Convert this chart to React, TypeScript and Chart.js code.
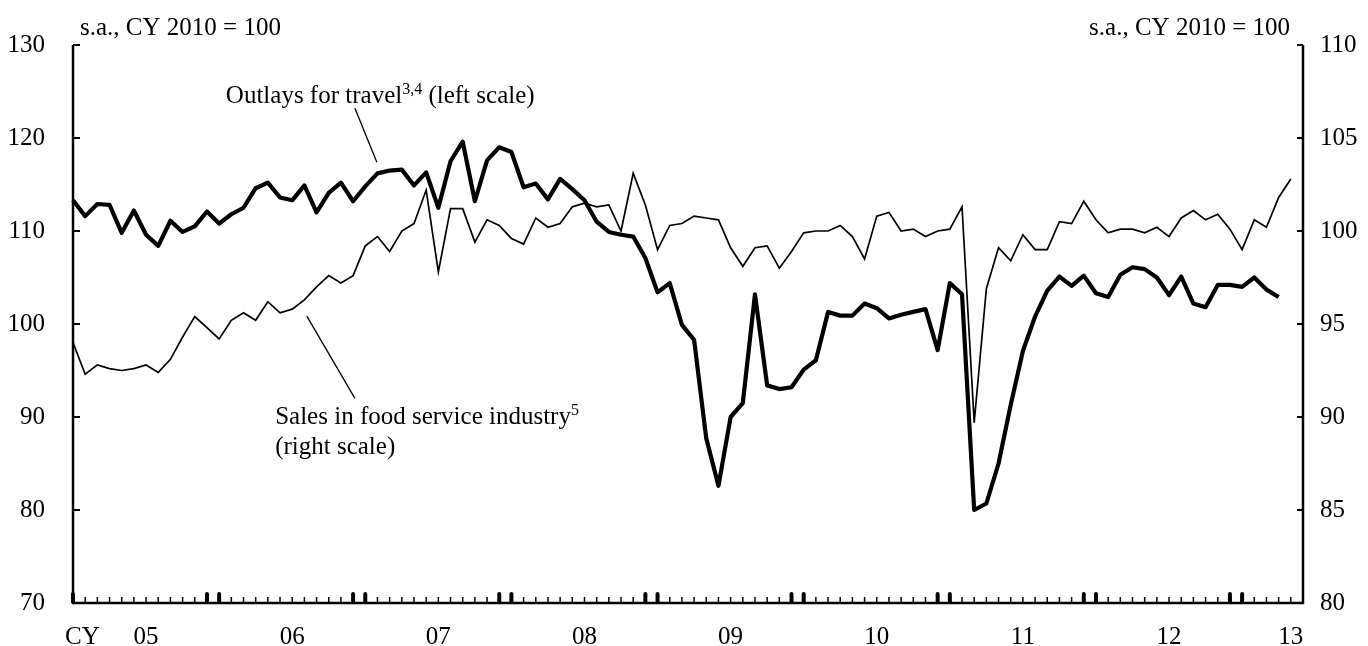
import { useEffect, useRef } from 'react';
import { Chart, registerables } from 'chart.js';

Chart.register(...registerables);

// ---- data ----
const START_YEAR = 2005;
const MONTH_COUNT = 102; // Jan 2005 .. Jun 2013
const months: string[] = Array.from({ length: MONTH_COUNT }, (_, i) =>
  `${START_YEAR + Math.floor(i / 12)}-${String((i % 12) + 1).padStart(2, '0')}`
);

// Outlays for travel (left scale), Jan 2005 .. Apr 2013
const travelOutlays = [
  113.3, 111.6, 112.9, 112.8, 109.8, 112.2, 109.6, 108.4, 111.1, 109.9,
  110.5, 112.1, 110.8, 111.8, 112.5, 114.6, 115.2, 113.6, 113.3, 114.9,
  112.0, 114.1, 115.2, 113.2, 114.8, 116.2, 116.5, 116.6, 114.9, 116.3,
  112.5, 117.5, 119.6, 113.2, 117.6, 119.0, 118.5, 114.7, 115.1, 113.4,
  115.6, 114.5, 113.3, 111.0, 109.9, 109.6, 109.4, 107.1, 103.4, 104.4,
  99.9, 98.3, 87.7, 82.6, 90.0, 91.5, 103.2, 93.4, 93.0, 93.2,
  95.1, 96.1, 101.3, 100.9, 100.9, 102.2, 101.7, 100.6, 101.0, 101.3,
  101.6, 97.2, 104.4, 103.2, 80.0, 80.7, 85.0, 91.3, 97.1, 100.8,
  103.6, 105.1, 104.1, 105.2, 103.3, 102.9, 105.3, 106.1, 105.9, 105.0,
  103.1, 105.1, 102.2, 101.8, 104.2, 104.2, 104.0, 105.0, 103.7, 102.9,
];

// Sales in food service industry (right scale), Jan 2005 .. May 2013
const foodServiceSales = [
  94.0, 92.3, 92.8, 92.6, 92.5, 92.6, 92.8, 92.4, 93.1, 94.3,
  95.4, 94.8, 94.2, 95.2, 95.6, 95.2, 96.2, 95.6, 95.8, 96.3,
  97.0, 97.6, 97.2, 97.6, 99.2, 99.7, 98.9, 100.0, 100.4, 102.2,
  97.8, 101.2, 101.2, 99.4, 100.6, 100.3, 99.6, 99.3, 100.7, 100.2,
  100.4, 101.3, 101.5, 101.3, 101.4, 100.0, 103.1, 101.4, 99.0, 100.3,
  100.4, 100.8, 100.7, 100.6, 99.1, 98.1, 99.1, 99.2, 98.0, 98.9,
  99.9, 100.0, 100.0, 100.3, 99.7, 98.5, 100.8, 101.0, 100.0, 100.1,
  99.7, 100.0, 100.1, 101.3, 89.7, 96.9, 99.1, 98.4, 99.8, 99.0,
  99.0, 100.5, 100.4, 101.6, 100.6, 99.9, 100.1, 100.1, 99.9, 100.2,
  99.7, 100.7, 101.1, 100.6, 100.9, 100.1, 99.0, 100.6, 100.2, 101.8,
  102.8,
];

const leftTicks = [70, 80, 90, 100, 110, 120, 130];
const rightTicks = [80, 85, 90, 95, 100, 105, 110];
const yearLabels = ['05', '06', '07', '08', '09', '10', '11', '12', '13'];
const unitLabel = 's.a., CY 2010 = 100';

const FONT = "'Liberation Serif', 'Times New Roman', serif";
const FS = 25;

const decorPlugin = {
  id: 'decor',
  afterDraw(chart: any) {
    const { ctx, chartArea: ca, scales } = chart;
    const x = scales.x;
    const yL = scales.yL;
    ctx.save();
    ctx.strokeStyle = '#000';
    ctx.fillStyle = '#000';

    // axis lines (left, bottom, right)
    ctx.lineWidth = 2.5;
    ctx.lineCap = 'butt';
    ctx.beginPath();
    ctx.moveTo(ca.left, ca.top);
    ctx.lineTo(ca.left, ca.bottom);
    ctx.lineTo(ca.right, ca.bottom);
    ctx.lineTo(ca.right, ca.top);
    ctx.stroke();

    // y ticks (inward)
    ctx.lineWidth = 2;
    leftTicks.forEach((v) => {
      const y = yL.getPixelForValue(v);
      ctx.beginPath();
      ctx.moveTo(ca.left, y);
      ctx.lineTo(ca.left + 7, y);
      ctx.stroke();
    });
    rightTicks.forEach((v) => {
      const y = scales.yR.getPixelForValue(v);
      ctx.beginPath();
      ctx.moveTo(ca.right - 6, y);
      ctx.lineTo(ca.right, y);
      ctx.stroke();
    });

    // x ticks (inward, monthly; year boundaries emphasised)
    months.forEach((_, i) => {
      const px = x.getPixelForValue(i);
      const m = i % 12;
      if (m === 0 || m === 11) {
        const w = 4;
        const h = 11;
        ctx.beginPath();
        ctx.moveTo(px - w / 2, ca.bottom);
        ctx.lineTo(px - w / 2, ca.bottom - h + w / 2);
        ctx.arc(px, ca.bottom - h + w / 2, w / 2, Math.PI, 0);
        ctx.lineTo(px + w / 2, ca.bottom);
        ctx.closePath();
        ctx.fill();
      } else {
        ctx.lineWidth = 1.5;
        ctx.beginPath();
        ctx.moveTo(px, ca.bottom);
        ctx.lineTo(px, ca.bottom - 6);
        ctx.stroke();
      }
    });

    // x labels
    ctx.font = `${FS}px ${FONT}`;
    ctx.textBaseline = 'alphabetic';
    const labelY = ca.bottom + 41;
    ctx.textAlign = 'left';
    ctx.fillText('CY', x.getPixelForValue(0) - 8, labelY);
    ctx.textAlign = 'center';
    yearLabels.forEach((lab, k) => {
      const pos = Math.min(k * 12 + 6, MONTH_COUNT - 2);
      ctx.fillText(lab, x.getPixelForValue(pos), labelY);
    });

    // unit labels
    const unitY = ca.top - 10;
    ctx.textAlign = 'left';
    ctx.fillText(unitLabel, ca.left + 7, unitY);
    ctx.textAlign = 'right';
    ctx.fillText(unitLabel, ca.right - 13, unitY);

    // annotations
    const drawRich = (parts: { t: string; sup?: boolean }[], px: number, py: number) => {
      let cx = px;
      ctx.textAlign = 'left';
      parts.forEach((p) => {
        ctx.font = p.sup ? `${Math.round(FS * 0.65)}px ${FONT}` : `${FS}px ${FONT}`;
        ctx.fillText(p.t, cx, p.sup ? py - 9 : py);
        cx += ctx.measureText(p.t).width;
      });
    };
    const P = (i: number, v: number) => [x.getPixelForValue(i), yL.getPixelForValue(v)];

    const [ax, ay] = P(12.55, 123.8);
    drawRich([{ t: 'Outlays for travel' }, { t: '3,4', sup: true }, { t: ' (left scale)' }], ax, ay);
    const [bx, by] = P(16.6, 89.2);
    drawRich([{ t: 'Sales in food service industry' }, { t: '5', sup: true }], bx, by);
    const [cx2, cy2] = P(16.6, 86.0);
    drawRich([{ t: '(right scale)' }], cx2, cy2);

    ctx.lineWidth = 1.3;
    const leader = (a: number[], b: number[]) => {
      ctx.beginPath();
      ctx.moveTo(a[0], a[1]);
      ctx.lineTo(b[0], b[1]);
      ctx.stroke();
    };
    leader(P(23.15, 123.2), P(24.95, 117.4));
    leader(P(19.2, 100.85), P(23.15, 92.0));

    ctx.restore();
  },
};

export default function App() {
  const canvasRef = useRef<HTMLCanvasElement | null>(null);

  useEffect(() => {
    const canvas = canvasRef.current;
    if (!canvas) return;
    const chart = new Chart(canvas, {
      type: 'line',
      data: {
        labels: months,
        datasets: [
          {
            label: 'Outlays for travel',
            data: travelOutlays,
            yAxisID: 'yL',
            borderColor: '#000',
            borderWidth: 4.2,
            borderJoinStyle: 'round',
            pointRadius: 0,
            tension: 0,
            fill: false,
          },
          {
            label: 'Sales in food service industry',
            data: foodServiceSales,
            yAxisID: 'yR',
            borderColor: '#000',
            borderWidth: 1.7,
            borderJoinStyle: 'miter',
            pointRadius: 0,
            tension: 0,
            fill: false,
          },
        ],
      },
      options: {
        responsive: false,
        animation: false,
        devicePixelRatio: 1,
        layout: { padding: { top: 45, left: 0, right: 0, bottom: 0 } },
        plugins: {
          legend: { display: false },
          tooltip: { enabled: false },
        },
        scales: {
          x: {
            type: 'category',
            offset: false,
            grid: { display: false, drawTicks: false },
            border: { display: false },
            ticks: { display: false },
            afterFit: (s: any) => {
              s.height = 43;
            },
          },
          yL: {
            position: 'left',
            min: 70,
            max: 130,
            grid: { display: false, drawTicks: false },
            border: { display: false },
            ticks: {
              stepSize: 10,
              color: '#000',
              padding: 28,
              font: { family: FONT, size: FS },
            },
            afterFit: (s: any) => {
              s.width = 73;
            },
          },
          yR: {
            position: 'right',
            min: 80,
            max: 110,
            grid: { display: false, drawTicks: false },
            border: { display: false },
            ticks: {
              stepSize: 5,
              color: '#000',
              padding: 17,
              font: { family: FONT, size: FS },
            },
            afterFit: (s: any) => {
              s.width = 65;
            },
          },
        },
      } as any,
      plugins: [decorPlugin],
    });
    return () => chart.destroy();
  }, []);

  return (
    <div style={{ position: 'absolute', left: 0, top: 0, width: 1368, height: 646, background: '#fff' }}>
      <canvas ref={canvasRef} width={1368} height={646} style={{ width: 1368, height: 646, display: 'block' }} />
    </div>
  );
}
